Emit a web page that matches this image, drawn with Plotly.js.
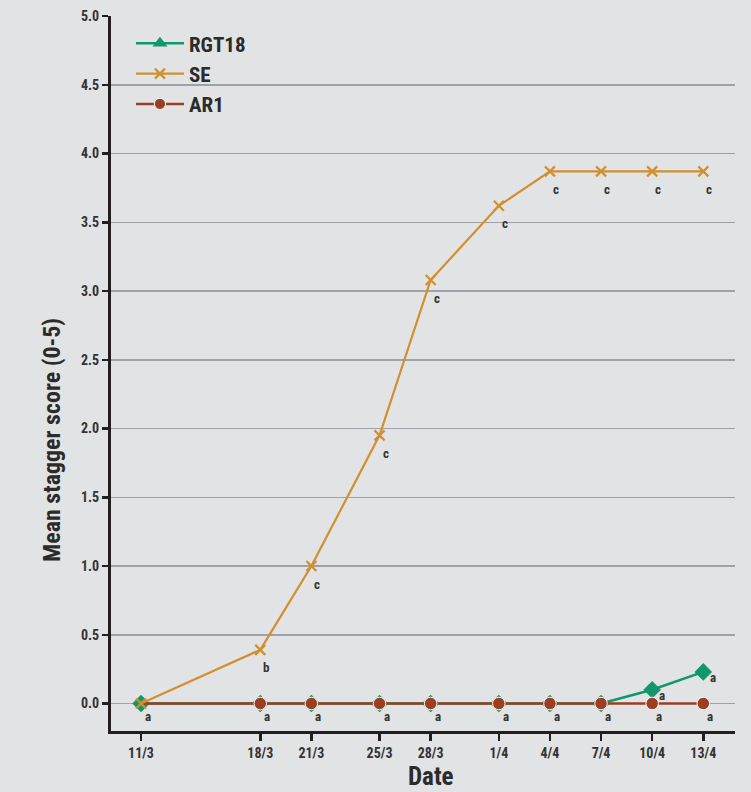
<!DOCTYPE html>
<html>
<head>
<meta charset="utf-8">
<script src="https://cdn.plot.ly/plotly-3.0.1.min.js"></script>
<style>
html,body{margin:0;padding:0;background:#e2e3e5;}
#chart{width:751px;height:792px;}
</style>
</head>
<body>
<div id="chart"></div>
<script>
// ---- data ----
var dates = ['2021-03-11','2021-03-18','2021-03-21','2021-03-25','2021-03-28','2021-04-01','2021-04-04','2021-04-07','2021-04-10','2021-04-13'];
var dateLabels = ['11/3','18/3','21/3','25/3','28/3','1/4','4/4','7/4','10/4','13/4'];
var rgt18 = [0, 0, 0, 0, 0, 0, 0, 0, 0.10, 0.23];
var se = [0, 0.39, 1.00, 1.95, 3.08, 3.62, 3.87, 3.87, 3.87, 3.87];
var ar1 = [0, 0, 0, 0, 0, 0, 0, 0, 0, 0];
var rgt18Letters = ['', '', '', '', '', '', '', '', 'a', 'a'];
var seLetters = ['', 'b', 'c', 'c', 'c', 'c', 'c', 'c', 'c', 'c'];
var ar1Letters = ['a', 'a', 'a', 'a', 'a', 'a', 'a', 'a', 'a', 'a'];
var yTicks = [0, 0.5, 1.0, 1.5, 2.0, 2.5, 3.0, 3.5, 4.0, 4.5, 5.0];
var xTitle = 'Date';
var yTitle = 'Mean stagger score (0-5)';

// ---- styles ----
var FONT = 'Roboto Condensed, Liberation Sans Narrow, DejaVu Sans, sans-serif';
var STRETCH = 'condensed';
var GREEN = '#10976a', ORANGE = '#d18f2d', BROWN = '#9b3f24', INK = '#2b2b2b';
function f(size, color) { return {family: FONT, size: size, color: color || INK, weight: 'bold', stretch: STRETCH}; }

var traces = [
  { // legend entry for RGT18 (triangle symbol in legend)
    x: [null], y: [null], name: 'RGT18', mode: 'lines+markers', legendrank: 1,
    line: {color: GREEN, width: 2.5},
    marker: {symbol: 'triangle-up', size: 13, color: GREEN, opacity: 1}
  },
  {
    x: dates, y: rgt18, name: 'RGT18', mode: 'lines+markers', showlegend: false,
    line: {color: GREEN, width: 2.5},
    marker: {symbol: 'diamond', size: 13.5, color: GREEN, opacity: 1}
  },
  {
    x: dates, y: ar1, name: 'AR1', mode: 'lines+markers', legendrank: 3,
    line: {color: BROWN, width: 2.5},
    marker: {symbol: 'circle', size: ar1.map(function(v, i){ return i === 0 ? 0 : 12.5; }), color: BROWN, opacity: 1}
  },
  {
    x: dates, y: se, name: 'SE', mode: 'lines+markers', legendrank: 2,
    line: {color: ORANGE, width: 2.2},
    marker: {symbol: 'x-thin', size: 10, color: ORANGE, opacity: 1, line: {color: ORANGE, width: 2.2}}
  }
];

var annotations = [];
function addLetters(vals, letters, dx, dy) {
  for (var i = 0; i < dates.length; i++) {
    if (!letters[i]) continue;
    annotations.push({
      x: dates[i], y: vals[i], xref: 'x', yref: 'y', text: letters[i],
      showarrow: false, xshift: dx, yshift: dy, font: f(13, '#333333')
    });
  }
}
addLetters(se, seLetters, 6, -18);
addLetters(ar1, ar1Letters, 7, -13);
addLetters(rgt18, rgt18Letters, 10, -6);

// axis titles (placed as annotations to match the reference placement)
annotations.push({
  xref: 'paper', yref: 'paper', x: 0.513, y: -0.063, xanchor: 'center', yanchor: 'middle',
  text: xTitle, showarrow: false, font: f(25)
});
annotations.push({
  xref: 'paper', yref: 'paper', x: -0.0946, y: 0.407, xanchor: 'center', yanchor: 'middle',
  text: yTitle, textangle: -90, showarrow: false, font: f(24)
});

var layout = {
  width: 751, height: 792,
  paper_bgcolor: '#e2e3e5', plot_bgcolor: '#e2e3e5',
  margin: {l: 111, r: 16, t: 16, b: 61},
  font: f(13),
  showlegend: true,
  legend: {
    x: 0.032, y: 0.99, xanchor: 'left', yanchor: 'top', itemwidth: 48,
    bgcolor: 'rgba(0,0,0,0)', font: f(21), tracegroupgap: 0
  },
  xaxis: {
    type: 'date',
    range: ['2021-03-09 05:45', '2021-04-14 20:40'],
    tickvals: dates, ticktext: dateLabels,
    showgrid: false, zeroline: false,
    showline: true, linecolor: '#231f20', linewidth: 3,
    ticks: 'outside', ticklen: 7, tickwidth: 2.5, tickcolor: '#231f20',
    tickfont: f(14, '#333333')
  },
  yaxis: {
    range: [-0.2, 5.0],
    tickvals: yTicks, ticktext: yTicks.map(function(v){ return v.toFixed(1); }),
    showgrid: true, gridcolor: '#9ea1a7', gridwidth: 1.5,
    zeroline: false,
    showline: true, linecolor: '#231f20', linewidth: 3,
    ticks: 'outside', ticklen: 6, tickwidth: 2.5, tickcolor: '#231f20',
    tickfont: f(14, '#333333')
  },
  annotations: annotations
};

Plotly.newPlot('chart', traces, layout, {displayModeBar: false, staticPlot: true});
</script>
</body>
</html>
